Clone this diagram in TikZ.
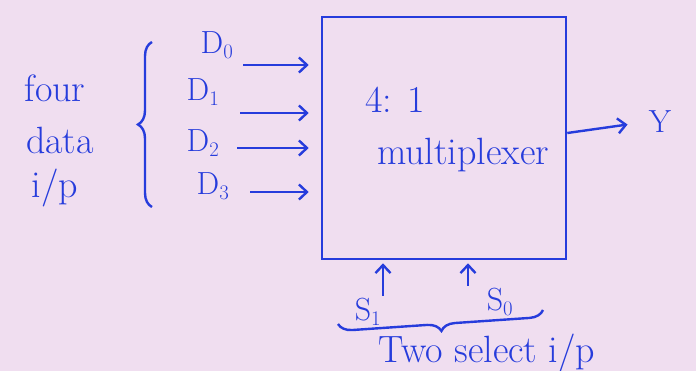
\documentclass[tikz,border=0pt]{standalone}
\usepackage{amsmath}
\usepackage{tikz}
\usetikzlibrary{arrows.meta, positioning, decorations.pathreplacing}

\definecolor{ink}{RGB}{38,60,220}
\definecolor{paper}{RGB}{240,222,240}

\tikzset{
  sig/.style={draw=ink, line width=2.4pt, -{Straight Barb[length=8pt,width=15pt]}},
  lbl/.style={text=ink, font=\fontsize{32}{34}\selectfont},
  big/.style={text=ink, font=\fontsize{38}{40}\selectfont},
  curly/.style={draw=ink, line width=2.4pt, decorate, decoration={brace, amplitude=14pt}}
}

\begin{document}
\begin{tikzpicture}[x=1pt, y=-1pt]
    \fill[paper] (0,0) rectangle (696,371);
    \useasboundingbox (0,0) rectangle (696,371);
    % the block
    \node[draw=ink, line width=2.6pt, minimum width=244pt, minimum height=242pt] (mux) at (444,138) {};
    \node[big] (ratio) at (395,100) {4: 1};
    \node[big] (mname) at (463,155) {multiplexer};
    % data inputs
    \node[lbl] (d0) at (217,45) {D$_0$};
    \node[lbl] (d1) at (203,92) {D$_1$};
    \node[lbl] (d2) at (203,143) {D$_2$};
    \node[lbl] (d3) at (213,186) {D$_3$};
    \foreach \i/\xa/\ya in {0/243/65, 1/240/113, 2/237/148, 3/250/192} {
        \coordinate (a\i) at (\xa,\ya);
        \draw[sig, shorten >=12pt] (a\i) -- (a\i -| mux.west);
    }
    \draw[curly] (152,207) -- (152,42);
    \node[big] (four) at (55,88) {four};
    \node[big] (data) at (60,140) {data};
    \node[big] (ip) at (55,188) {i/p};
    % output
    \node[lbl] (y) at (660,122) {Y};
    \draw[sig, shorten >=18pt] ([yshift=5pt]mux.east) -- (y.west);
    % select inputs
    \node[lbl] (s1) at (368,312) {S$_1$};
    \node[lbl] (s0) at (500,302) {S$_0$};
    \coordinate (b1) at (383,296);
    \coordinate (b0) at (468,286);
    \draw[sig, shorten >=3pt] (b1) -- (b1 |- mux.south);
    \draw[sig, shorten >=3pt] (b0) -- (b0 |- mux.south);
    \draw[curly] (543,310) -- (338,324);
    \node[big] (sel) at (487,353) {Two select i/p};
\end{tikzpicture}
\end{document}
